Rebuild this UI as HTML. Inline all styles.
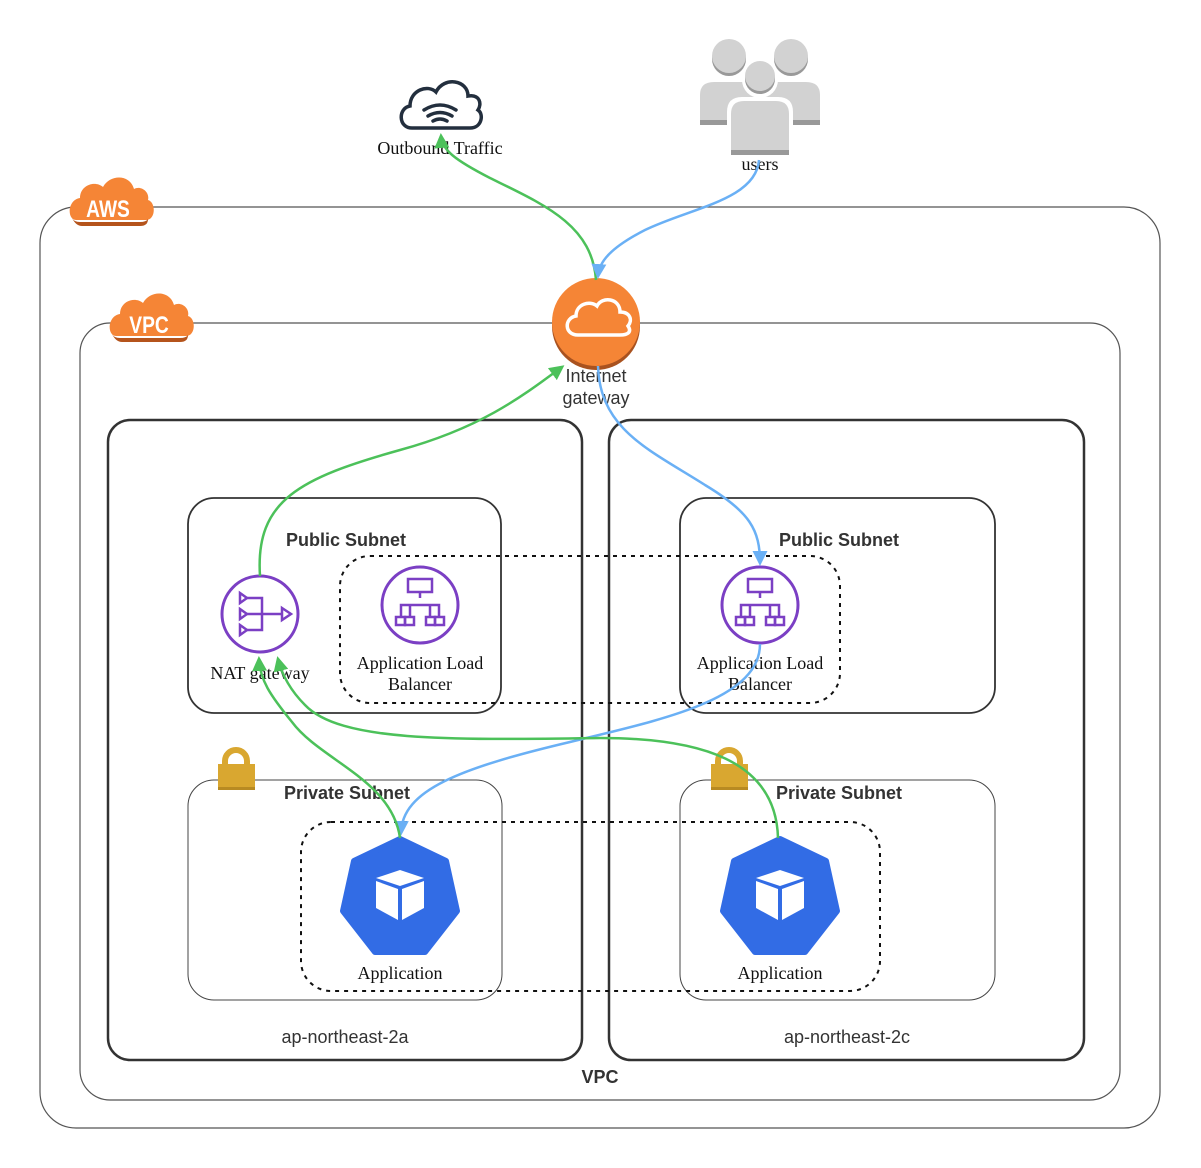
<!DOCTYPE html>
<html><head><meta charset="utf-8"><style>
html,body{margin:0;padding:0;background:#fff;}
svg{display:block;}
.sans{font-family:"Liberation Sans",sans-serif;}
.serif{font-family:"Liberation Serif",serif;}
</style></head><body>
<svg width="1201" height="1168" viewBox="0 0 1201 1168" xmlns="http://www.w3.org/2000/svg">
<defs>
<marker id="ag" viewBox="0 0 10 10" refX="8" refY="5" markerWidth="6" markerHeight="6" orient="auto"><path d="M0,0 L10,5 L0,10 z" fill="#4CC15A"/></marker>
<marker id="ab" viewBox="0 0 10 10" refX="8" refY="5" markerWidth="6" markerHeight="6" orient="auto"><path d="M0,0 L10,5 L0,10 z" fill="#6AB0F5"/></marker>
</defs>

<rect x="40" y="207" width="1120" height="921" rx="36" fill="none" stroke="#555" stroke-width="1.2"/>
<rect x="80" y="323" width="1040" height="777" rx="30" fill="none" stroke="#555" stroke-width="1.2"/>

<g transform="translate(70,176)">
<path d="M6,44 C-3,44 -3,24 10,22 C10,9 25,4 33,11 C40,-2 60,-2 64,13 C71,9 80,16 78,24 C86,26 86,44 76,44 Z" fill="#F58536"/>
<path d="M2,42 Q6,50 12,50 L70,50 Q78,50 78,43 Q76,46 70,46 L10,46 Q4,46 2,42Z" fill="#B5541C"/>
<text x="0" y="0" text-anchor="middle" class="sans" font-size="24" font-weight="bold" fill="#fff" transform="translate(38,41) scale(0.8,1)">AWS</text>
</g>
<g transform="translate(110,292)">
<path d="M6,44 C-3,44 -3,24 10,22 C10,9 25,4 33,11 C40,-2 60,-2 64,13 C71,9 80,16 78,24 C86,26 86,44 76,44 Z" fill="#F58536"/>
<path d="M2,42 Q6,50 12,50 L70,50 Q78,50 78,43 Q76,46 70,46 L10,46 Q4,46 2,42Z" fill="#B5541C"/>
<text x="0" y="0" text-anchor="middle" class="sans" font-size="24" font-weight="bold" fill="#fff" transform="translate(39,41) scale(0.8,1)">VPC</text>
</g>

<rect x="108" y="420" width="474" height="640" rx="22" fill="none" stroke="#333" stroke-width="2.5"/>
<rect x="609" y="420" width="475" height="640" rx="22" fill="none" stroke="#333" stroke-width="2.5"/>

<rect x="188" y="498" width="313" height="215" rx="26" fill="none" stroke="#333" stroke-width="1.8"/>
<rect x="680" y="498" width="315" height="215" rx="26" fill="none" stroke="#333" stroke-width="1.8"/>
<rect x="188" y="780" width="314" height="220" rx="26" fill="none" stroke="#444" stroke-width="1"/>
<rect x="680" y="780" width="315" height="220" rx="26" fill="none" stroke="#444" stroke-width="1"/>

<rect x="340" y="556" width="500" height="147" rx="30" fill="none" stroke="#111" stroke-width="2" stroke-dasharray="4,5"/>
<rect x="301" y="822" width="579" height="169" rx="30" fill="none" stroke="#111" stroke-width="2" stroke-dasharray="4,5"/>

<text x="346" y="546" text-anchor="middle" class="sans" font-size="18" font-weight="bold" fill="#333">Public Subnet</text>
<text x="839" y="546" text-anchor="middle" class="sans" font-size="18" font-weight="bold" fill="#333">Public Subnet</text>
<text x="347" y="799" text-anchor="middle" class="sans" font-size="18" font-weight="bold" fill="#333">Private Subnet</text>
<text x="839" y="799" text-anchor="middle" class="sans" font-size="18" font-weight="bold" fill="#333">Private Subnet</text>
<text x="345" y="1043" text-anchor="middle" class="sans" font-size="18" fill="#333">ap-northeast-2a</text>
<text x="847" y="1043" text-anchor="middle" class="sans" font-size="18" fill="#333">ap-northeast-2c</text>
<text x="600" y="1083" text-anchor="middle" class="sans" font-size="18" font-weight="bold" fill="#333">VPC</text>

<g transform="translate(218,750)">
<path d="M7,14 V11 A11,11 0 0 1 29,11 V14" fill="none" stroke="#D9A730" stroke-width="6"/>
<rect x="0" y="14" width="37" height="26" fill="#D9A730"/>
<rect x="0" y="37" width="37" height="3" fill="#B88A22"/>
</g>
<g transform="translate(711,750)">
<path d="M7,14 V11 A11,11 0 0 1 29,11 V14" fill="none" stroke="#D9A730" stroke-width="6"/>
<rect x="0" y="14" width="37" height="26" fill="#D9A730"/>
<rect x="0" y="37" width="37" height="3" fill="#B88A22"/>
</g>

<g fill="none" stroke="#232F3E" stroke-width="3.5" stroke-linecap="round">
<path d="M412,128 C398,128 398,108 410,106 C410,90 428,84 436,92 C444,76 468,80 468,96 C480,94 482,104 478,110 C484,114 482,128 470,128 Z"/>
<path d="M424,110 Q440,100 456,110"/>
<path d="M428,116 Q440,109 452,116"/>
<path d="M433,121 Q440,117 447,121"/>
</g>
<text x="440" y="154" text-anchor="middle" class="serif" font-size="18" fill="#111">Outbound Traffic</text>

<g>
<circle cx="729" cy="59" r="17" fill="#999"/><circle cx="729" cy="56" r="17" fill="#D2D2D2"/>
<circle cx="791" cy="59" r="17" fill="#999"/><circle cx="791" cy="56" r="17" fill="#D2D2D2"/>
<path d="M700,125 V95 Q700,82 714,82 L744,82 Q758,82 758,95 V125 Z" fill="#D2D2D2"/>
<path d="M762,125 V95 Q762,82 776,82 L806,82 Q820,82 820,95 V125 Z" fill="#D2D2D2"/>
<rect x="700" y="120" width="120" height="5" fill="#999"/>
<circle cx="760" cy="80" r="18" fill="#fff"/>
<circle cx="760" cy="79" r="15" fill="#999"/><circle cx="760" cy="76" r="15" fill="#D2D2D2"/>
<path d="M727,156 V112 Q727,97 742,97 L778,97 Q793,97 793,112 V156 Z" fill="#fff"/>
<path d="M731,155 V114 Q731,101 744,101 L776,101 Q789,101 789,114 V155 Z" fill="#D2D2D2"/>
<rect x="731" y="150" width="58" height="5" fill="#999"/>
</g>
<text x="760" y="170" text-anchor="middle" class="serif" font-size="18" fill="#111">users</text>

<circle cx="596" cy="326" r="44" fill="#A9521F"/>
<circle cx="596" cy="322" r="44" fill="#F58536"/>
<path d="M578,335 C564,335 564,318 576,316 C576,304 590,300 597,306 C602,296 620,298 620,312 C630,312 633,320 628,326 C632,332 628,335 620,335 Z" fill="none" stroke="#fff" stroke-width="3.5"/>
<text x="596" y="382" text-anchor="middle" class="sans" font-size="18" fill="#333">Internet</text>
<text x="596" y="404" text-anchor="middle" class="sans" font-size="18" fill="#333">gateway</text>

<circle cx="260" cy="614" r="38" fill="none" stroke="#7B3FC4" stroke-width="3"/>
<g fill="none" stroke="#7B3FC4" stroke-width="2.5">
<path d="M240,593 L247,598 L240,603 Z"/><path d="M240,609 L247,614 L240,619 Z"/><path d="M240,625 L247,630 L240,635 Z"/>
<path d="M247,598 H262 V630 H247 M247,614 H282"/>
<path d="M282,608 L291,614 L282,620 Z"/>
</g>
<text x="260" y="679" text-anchor="middle" class="serif" font-size="18" fill="#111">NAT gateway</text>

<g id="alb">
<circle cx="420" cy="605" r="38" fill="none" stroke="#7B3FC4" stroke-width="3"/>
<g fill="none" stroke="#7B3FC4" stroke-width="2.5">
<rect x="408" y="579" width="24" height="13"/>
<path d="M420,592 V598 M401,617 V605 H439 V617 M410,605 V617 M430,605 V617"/>
<rect x="396" y="617" width="9" height="8"/><rect x="405" y="617" width="9" height="8"/>
<rect x="426" y="617" width="9" height="8"/><rect x="435" y="617" width="9" height="8"/>
</g>
</g>
<use href="#alb" transform="translate(340,0)"/>
<text x="420" y="669" text-anchor="middle" class="serif" font-size="18" fill="#111">Application Load</text>
<text x="420" y="690" text-anchor="middle" class="serif" font-size="18" fill="#111">Balancer</text>
<text x="760" y="669" text-anchor="middle" class="serif" font-size="18" fill="#111">Application Load</text>
<text x="760" y="690" text-anchor="middle" class="serif" font-size="18" fill="#111">Balancer</text>

<g id="k8s">
<path d="M400,839 L446,861 L457,911 L425,952 L375,952 L343,911 L354,861 Z" fill="#326CE5" stroke="#326CE5" stroke-width="6" stroke-linejoin="round"/>
<path d="M376,878 L400,870 L424,878 L400,886 Z" fill="#fff"/>
<path d="M376,881 L398,889 L398,920 L376,908 Z" fill="#fff"/>
<path d="M424,881 L402,889 L402,920 L424,908 Z" fill="#fff"/>
</g>
<use href="#k8s" transform="translate(380,0)"/>
<text x="400" y="979" text-anchor="middle" class="serif" font-size="18" fill="#111">Application</text>
<text x="780" y="979" text-anchor="middle" class="serif" font-size="18" fill="#111">Application</text>

<g fill="none" stroke-width="2.5">
<path d="M596,280 C592,225 545,205 490,178 C455,160 442,150 441,136" stroke="#4CC15A" marker-end="url(#ag)"/>
<path d="M759,160 C756,200 690,208 645,230 C610,248 599,262 598,276" stroke="#6AB0F5" marker-end="url(#ab)"/>
<path d="M598,366 C600,430 650,450 705,485 C750,512 760,530 760,563" stroke="#6AB0F5" marker-end="url(#ab)"/>
<path d="M260,576 C255,500 300,478 400,450 C480,428 520,398 562,367" stroke="#4CC15A" marker-end="url(#ag)"/>
<path d="M760,644 C760,700 660,720 570,742 C460,768 402,790 401,833" stroke="#6AB0F5" marker-end="url(#ab)"/>
<path d="M400,838 C392,780 320,760 292,722 C270,695 260,680 259,659" stroke="#4CC15A" marker-end="url(#ag)"/>
<path d="M778,838 C776,760 700,738 600,738 C450,740 340,742 305,705 C290,690 282,675 278,659" stroke="#4CC15A" marker-end="url(#ag)"/>
</g>
</svg>
</body></html>
